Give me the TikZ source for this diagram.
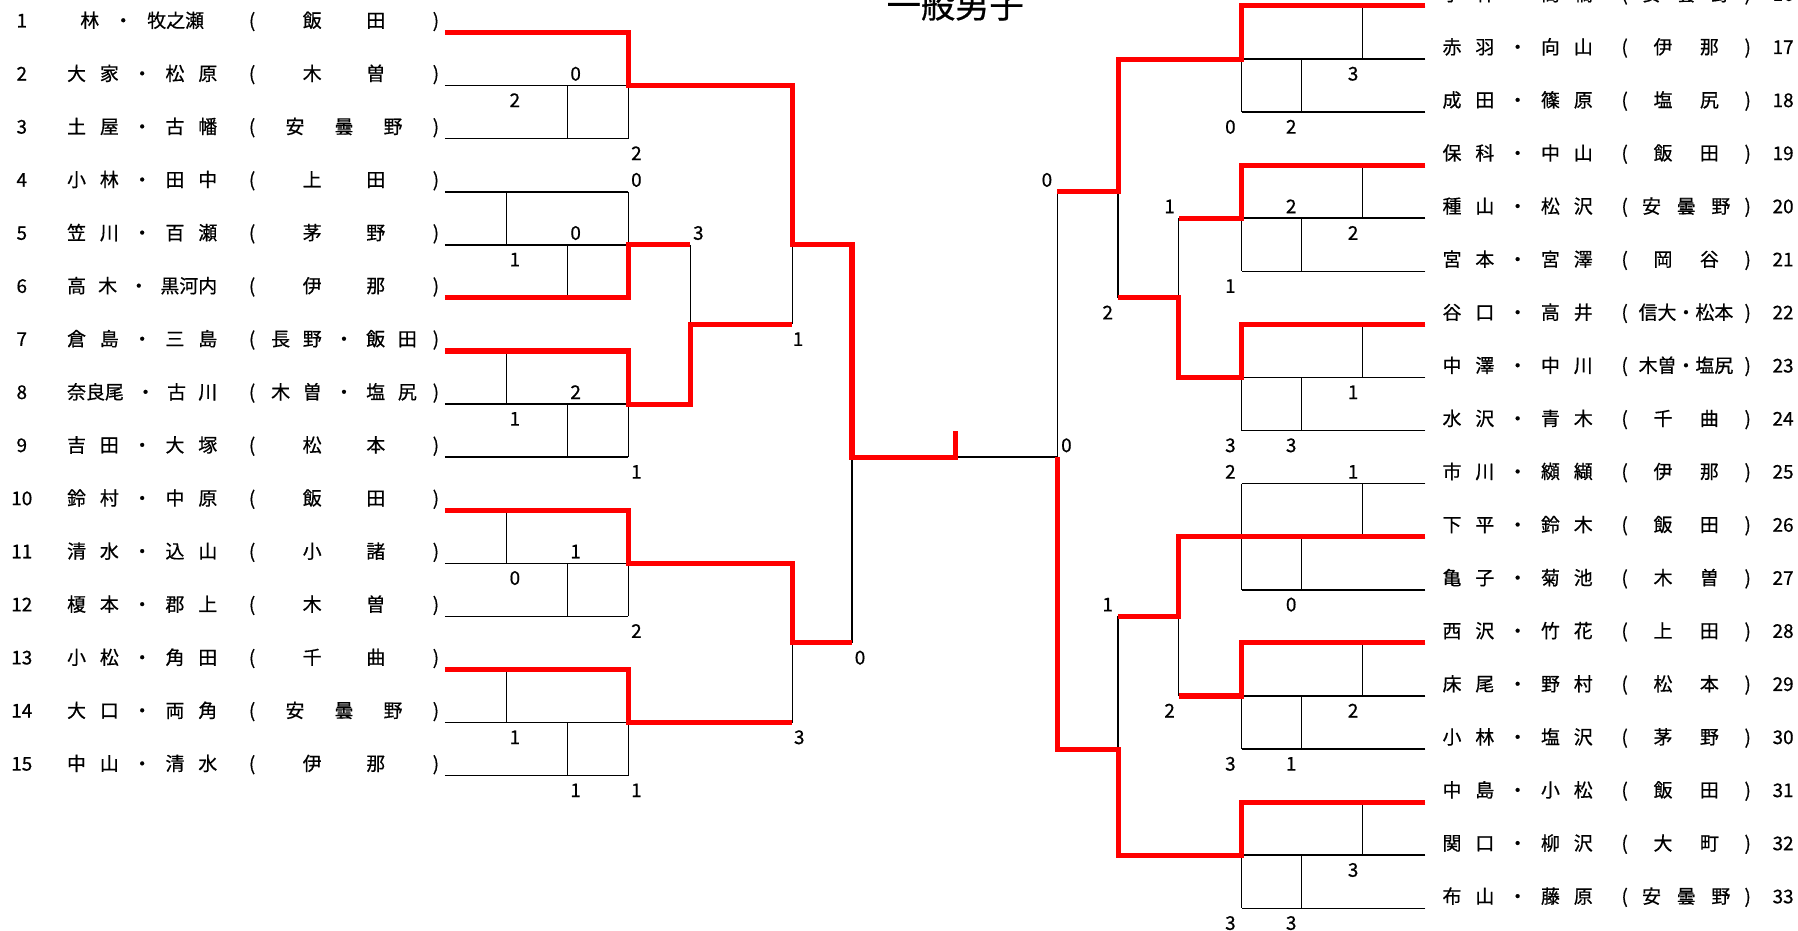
\documentclass[tikz,border=0pt]{standalone}
\usepackage{fontspec}
\setmainfont{Noto Sans CJK JP}[FakeBold=0.6]
\usepackage{tikz}
\definecolor{WinRed}{RGB}{255,0,0}
\tikzset{
	tline/.style={line width=0.8pt},
	vline/.style={line width=0.55pt},
	winline/.style={draw=WinRed, line width=2.5pt, line join=miter},
	txt/.style={anchor=base, inner sep=0pt, font=\fontsize{9.4pt}{11pt}\selectfont},
}
\newcommand{\club}[3]{\makebox[#1][s]{(\hfill\makebox[#2][s]{#3}\hfill)}}

\begin{document}
\begin{tikzpicture}[x=0.02cm, y=-0.463cm]
	\useasboundingbox (0,-0.2246) rectangle (1568,34.851);
	\node[txt, font=\fontsize{17pt}{20pt}\selectfont] (title) at (833,0.445) {一般男子};
	\foreach \i/\nam/\w/\cl in {1/{\hfill\makebox[2.16cm][s]{林 ・ 牧之瀬}\hfill}/1.44cm/{飯 田},
		2/{大 家 ・ 松 原}/1.44cm/{木 曽}, 3/{土 屋 ・ 古 幡}/2.04cm/{安 曇 野},
		4/{小 林 ・ 田 中}/1.44cm/{上 田}, 5/{笠 川 ・ 百 瀬}/1.44cm/{茅 野},
		6/{高 木 ・ 黒河内}/1.44cm/{伊 那}, 7/{倉 島 ・ 三 島}/2.54cm/{長 野 ・ 飯 田},
		8/{奈良尾 ・ 古 川}/2.54cm/{木 曽 ・ 塩 尻}, 9/{吉 田 ・ 大 塚}/1.44cm/{松 本},
		10/{鈴 村 ・ 中 原}/1.44cm/{飯 田}, 11/{清 水 ・ 込 山}/1.44cm/{小 諸},
		12/{榎 本 ・ 郡 上}/1.44cm/{木 曽}, 13/{小 松 ・ 角 田}/1.44cm/{千 曲},
		14/{大 口 ・ 両 角}/2.04cm/{安 曇 野}, 15/{中 山 ・ 清 水}/1.44cm/{伊 那}} {
		\node[txt] (n\i) at (19,2*\i-1.19) {\i};
		\node[txt] (t\i) at (124,2*\i-1.19) {\makebox[2.62cm][s]{\nam}};
		\node[txt] (c\i) at (300,2*\i-1.19) {\club{3.32cm}{\w}{\cl}};
		\coordinate (a\i) at (388,2*\i-1);
		\draw[tline] (a\i) -- ++(160,0);
	}
	\foreach \j/\nam/\w/\cl in {16/{小 林 ・ 高 橋}/1.54cm/{安 曇 野},
		17/{赤 羽 ・ 向 山}/1.14cm/{伊 那}, 18/{成 田 ・ 篠 原}/1.14cm/{塩 尻},
		19/{保 科 ・ 中 山}/1.14cm/{飯 田}, 20/{種 山 ・ 松 沢}/1.54cm/{安 曇 野},
		21/{宮 本 ・ 宮 澤}/1.14cm/{岡 谷}, 22/{谷 口 ・ 高 井}/1.66cm/{信大・松本},
		23/{中 澤 ・ 中 川}/1.66cm/{木曽・塩尻}, 24/{水 沢 ・ 青 木}/1.14cm/{千 曲},
		25/{市 川 ・ 纐 纈}/1.14cm/{伊 那}, 26/{下 平 ・ 鈴 木}/1.14cm/{飯 田},
		27/{亀 子 ・ 菊 池}/1.14cm/{木 曽}, 28/{西 沢 ・ 竹 花}/1.14cm/{上 田},
		29/{床 尾 ・ 野 村}/1.14cm/{松 本}, 30/{小 林 ・ 塩 沢}/1.14cm/{茅 野},
		31/{中 島 ・ 小 松}/1.14cm/{飯 田}, 32/{関 口 ・ 柳 沢}/1.14cm/{大 町},
		33/{布 山 ・ 藤 原}/1.54cm/{安 曇 野}} {
		\node[txt] (n\j) at (1555,2*\j-32.19) {\j};
		\node[txt] (t\j) at (1323.5,2*\j-32.19) {\makebox[2.62cm][s]{\nam}};
		\node[txt] (c\j) at (1470.5,2*\j-32.19) {\club{2.26cm}{\w}{\cl}};
		\coordinate (b\j) at (1243,2*\j-32);
		\draw[tline] (b\j) -- ++(-160,0);
	}
	\foreach \x/\a/\b in {442/7/9, 442/13/15, 442/19/21, 442/25/27, 495/3/5, 495/9/11,
		495/15/17, 495/21/23, 495/27/29, 548/3/5, 548/7/9, 548/15/17, 548/21/23, 548/27/29,
		602/9/12, 691/9/12, 691/24/27, 743/17/24, 922/7/17, 975/7/11, 975/23/28,
		1028/8/11, 1028/23/26, 1083/2/4, 1083/8/10, 1083/14/16, 1083/18/22, 1083/26/28,
		1083/32/34, 1135/2/4, 1135/8/10, 1135/14/16, 1135/20/22, 1135/26/28, 1135/32/34,
		1188/0/2, 1188/6/8, 1188/12/14, 1188/18/20, 1188/24/26, 1188/30/32}
		\draw[vline] (\x,\a) -- (\x,\b);
	\draw[tline] (833,17) -- (922,17);
	\draw[winline] (a1) -| (548,3) -| (691,9) -| (743,17) -| (833,16);
	\draw[winline] (a6) -| (548,9) -- (602,9);
	\draw[winline] (a7) -| (548,15) -| (602,12) -- (691,12);
	\draw[winline] (a10) -| (548,21) -| (691,24) -- (743,24);
	\draw[winline] (a13) -| (548,27) -- (691,27);
	\draw[winline] (b16) -| (1083,2) -| (975,7) -- (922,7);
	\draw[winline] (b19) -| (1083,8) -- (1028,8);
	\draw[winline] (b22) -| (1083,14) -| (1028,11) -- (975,11);
	\draw[winline] (b26) -| (1028,23) -- (975,23);
	\draw[winline] (b28) -| (1083,26) -- (1028,26);
	\draw[winline] (b31) -| (1083,32) -| (975,28) -| (922,17);
	\foreach \x/\r/\s [count=\k] in {502/3/0, 449/4/2, 555/6/2, 555/7/0, 502/9/0, 609/9/3,
		449/10/1, 696/13/1, 502/15/2, 449/16/1, 555/18/1, 502/21/1, 449/22/0, 555/24/2,
		750/25/0, 449/28/1, 697/28/3, 502/30/1, 555/30/1, 1180/3/3, 1073/5/0, 1126/5/2,
		913/7/0, 1020/8/1, 1126/8/2, 1180/9/2, 1073/11/1, 966/12/2, 1180/15/1, 930/17/0,
		1073/17/3, 1126/17/3, 1073/18/2, 1180/18/1, 966/23/1, 1126/23/0, 1020/27/2,
		1180/27/2, 1073/29/3, 1126/29/1, 1180/33/3, 1073/35/3, 1126/35/3}
		\node[txt] (s\k) at (\x,\r-0.19) {\s};
\end{tikzpicture}
\end{document}
